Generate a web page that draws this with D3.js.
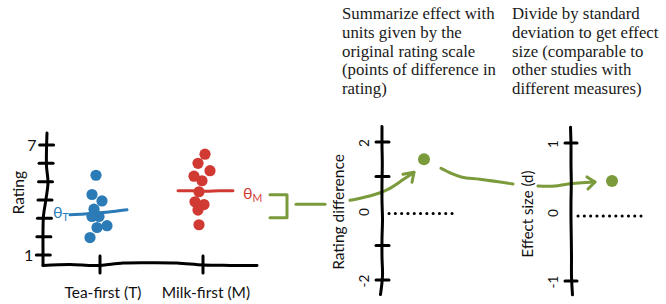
<!DOCTYPE html>
<html>
<head>
<meta charset="utf-8">
<script src="https://cdn.jsdelivr.net/npm/d3@7"></script>
<style>
  body { margin: 0; background: #fff; }
  svg { display: block; }
  text { font-family: Lato, "Noto Sans", sans-serif; fill: #111; }
  .note { font-family: "Liberation Serif", serif; font-size: 16.8px; fill: #1a1a1a; }
</style>
</head>
<body>
<div id="chart"></div>
<script>
const w = 666;
const h = 304;

// values
const groups = ['Tea-first (T)', 'Milk-first (M)'];
const teaRatings = [5.35, 4.3, 3.95, 3.5, 3.1, 3.1, 2.5, 2.6, 1.95];
const milkRatings = [6.5, 6.0, 5.6, 5.3, 5.05, 4.45, 3.75, 3.9, 3.45, 2.65];
const thetaT = 3.3;
const thetaM = 4.5;
const ratingDiff = 1.5;
const effectSize = 0.45;
const ratingTicks = [1, 2, 3, 4, 5, 6, 7];
const ratingLabels = [1, 7];
const diffTicks = [-2, -1, 1, 2];
const diffLabels = [-2, 0, 2];
const effectTicks = [-1, 1];
const effectLabels = [-1, 0, 1];
const noteLeft = ['Summarize effect with', 'units given by the', 'original rating scale', '(points of difference in', 'rating)'];
const noteRight = ['Divide by standard', 'deviation to get effect', 'size (comparable to', 'other studies with', 'different measures)'];

const blue = '#2b7bb7';
const red = '#d03a33';
const green = '#7b9a3b';

const svg = d3.select('#chart')
    .append('svg')
    .attr('width', w)
    .attr('height', h);

// scales
const yRating = d3.scaleLinear().domain([1, 7]).range([255, 145]);
const xGroup = d3.scalePoint().domain(groups).range([100, 203]);
const yDiff = d3.scaleLinear().domain([-2, 2]).range([280, 142]);
const yEff = d3.scaleLinear().domain([-1, 1]).range([281, 143]);
const diffX = 382;
const effX = 571;

// hand drawn look: line sampled evenly, nudged sideways by wig offsets
const rough = d3.line().curve(d3.curveCatmullRom);
const wobbly = (x1, y1, x2, y2, wig) => {
    const n = wig.length - 1;
    const horiz = Math.abs(x2 - x1) > Math.abs(y2 - y1);
    return rough(wig.map((o, i) => {
        const x = x1 + (x2 - x1) * i / n;
        const y = y1 + (y2 - y1) * i / n;
        return horiz ? [x, y + o] : [x + o, y];
    }));
};

const ink = (sel, color, width) => sel
    .attr('fill', 'none')
    .attr('stroke', color)
    .attr('stroke-width', width)
    .attr('stroke-linecap', 'round')
    .attr('stroke-linejoin', 'round');

// ---------- left panel ----------
const axisTop = yRating(7.65);
const axisBot = yRating(0.45);
// axis leans a bit: x at a given y
const leftAxisX = (y) => 43 + 4 * (axisBot - y) / (axisBot - axisTop);

svg.append('path')
    .attr('d', wobbly(47, axisTop, 43, axisBot, [0, 0, 0.5, 2.5, 1, -1, -1, -0.5, 0]))
    .call(ink, '#000', 3);

svg.selectAll('.rtick')
    .data(ratingTicks)
    .enter()
    .append('line')
    .attr('class', 'rtick')
    .attr('x1', d => leftAxisX(yRating(d)) - 7)
    .attr('x2', d => leftAxisX(yRating(d)) + 7)
    .attr('y1', d => yRating(d))
    .attr('y2', d => yRating(d))
    .call(ink, '#000', 3);

svg.selectAll('.rlab')
    .data(ratingLabels)
    .enter()
    .append('text')
    .attr('x', d => leftAxisX(yRating(d)) - 10)
    .attr('y', d => yRating(d) + 6)
    .attr('text-anchor', 'end')
    .attr('font-size', 16)
    .text(d => d);

svg.append('text')
    .attr('transform', 'translate(24,' + yRating(4.4) + ') rotate(-90)')
    .attr('text-anchor', 'middle')
    .attr('font-size', 15.5)
    .text('Rating');

// x axis
svg.append('path')
    .attr('d', wobbly(43, axisBot, 257, axisBot, [0.5, -0.5, 0.5, -2, -2.3, -2, 0, 0.3, 0.3]))
    .call(ink, '#000', 3);

svg.selectAll('.gtick')
    .data(groups)
    .enter()
    .append('line')
    .attr('x1', d => xGroup(d))
    .attr('x2', d => xGroup(d))
    .attr('y1', axisBot - 9)
    .attr('y2', axisBot + 8)
    .call(ink, '#000', 3);

svg.selectAll('.glab')
    .data(groups)
    .enter()
    .append('text')
    .attr('x', d => xGroup(d) + 3)
    .attr('y', 298)
    .attr('text-anchor', 'middle')
    .attr('font-size', 15.5)
    .text(d => d);

// theta lines
svg.append('path')
    .attr('d', wobbly(70, yRating(thetaT) + 1, 127, yRating(thetaT) - 2, [1, 1, 0.5, 0, -1]))
    .call(ink, blue, 3);
svg.append('path')
    .attr('d', wobbly(178, yRating(thetaM), 233, yRating(thetaM), [0, 0, 0.5, 0, 0]))
    .call(ink, red, 3);

const thetaLabel = (x, y, sub, color) => {
    const t = svg.append('text')
        .attr('x', x)
        .attr('y', y)
        .attr('font-size', 16)
        .style('fill', color);
    t.append('tspan').text('θ');
    t.append('tspan').attr('font-size', 10.5).attr('dy', 3).text(sub);
};
thetaLabel(53, yRating(thetaT) + 5, 'T', blue);
thetaLabel(243, yRating(thetaM) + 8, 'M', red);

// dots
const teaJitter = [-2, -6, 4, -4, -6, 1, -1, 9, -8];
const milkJitter = [3, -4, 8, -8, 0, -3, 2, -7, -4, -3];

svg.selectAll('.tea')
    .data(teaRatings)
    .enter()
    .append('circle')
    .attr('cx', (d, i) => xGroup(groups[0]) - 2 + teaJitter[i])
    .attr('cy', d => yRating(d))
    .attr('r', 5.6)
    .attr('fill', blue);

svg.selectAll('.milk')
    .data(milkRatings)
    .enter()
    .append('circle')
    .attr('cx', (d, i) => xGroup(groups[1]) - 1 + milkJitter[i])
    .attr('cy', d => yRating(d))
    .attr('r', 5.6)
    .attr('fill', red);

// ---------- bracket + arrow to middle ----------
const bTop = yRating(thetaM) + 4;
const bBot = yRating(thetaT) + 5;
svg.append('path')
    .attr('d', d3.line()([[270, bTop], [287, bTop], [287, bBot], [270, bBot]]))
    .call(ink, green, 3);
const bMid = (bTop + bBot) / 2 - 2;
svg.append('path')
    .attr('d', d3.line()([[296, bMid], [325, bMid]]))
    .call(ink, green, 3);

const diffDot = [diffX + 42, yDiff(ratingDiff)];
const tip1 = [diffDot[0] - 10, diffDot[1] + 13];
svg.append('path')
    .attr('d', d3.line().curve(d3.curveBasis)([[350, bMid - 4], [370, bMid - 8], [388, bMid - 14], [402, tip1[1] + 8], tip1]))
    .call(ink, green, 3);
svg.append('path')
    .attr('d', d3.line()([[tip1[0] - 11, tip1[1] + 2], tip1, [tip1[0] - 2, tip1[1] + 10]]))
    .call(ink, green, 3);

// ---------- middle panel ----------
svg.append('path')
    .attr('d', wobbly(diffX, yDiff(2.45), diffX, yDiff(-2.42), [0, 0, 0.3, 0, 0, 0.5, 0, 0, 0.5, -1.5]))
    .call(ink, '#000', 3);

svg.selectAll('.dtick')
    .data(diffTicks)
    .enter()
    .append('line')
    .attr('x1', diffX - 6)
    .attr('x2', diffX + 7)
    .attr('y1', d => yDiff(d))
    .attr('y2', d => yDiff(d))
    .call(ink, '#000', 3);

svg.selectAll('.dlab')
    .data(diffLabels)
    .enter()
    .append('text')
    .attr('transform', d => 'translate(' + (diffX - 13) + ',' + (yDiff(d) + 1) + ') rotate(-90)')
    .attr('text-anchor', 'middle')
    .attr('font-size', 13.5)
    .text(d => d);

svg.append('text')
    .attr('transform', 'translate(344,' + (yDiff(0) + 1) + ') rotate(-90)')
    .attr('text-anchor', 'middle')
    .attr('font-size', 15.5)
    .text('Rating difference');

svg.append('line')
    .attr('x1', diffX + 7)
    .attr('x2', diffX + 73)
    .attr('y1', yDiff(0) + 2.5)
    .attr('y2', yDiff(0) + 2.5)
    .attr('stroke', '#000')
    .attr('stroke-width', 3)
    .attr('stroke-linecap', 'round')
    .attr('stroke-dasharray', '0.1,6.2');

svg.append('circle')
    .attr('cx', diffDot[0])
    .attr('cy', diffDot[1])
    .attr('r', 6)
    .attr('fill', green);

// ---------- arrow to right panel ----------
const effDot = [effX + 41, yEff(effectSize)];
const tip2 = [effDot[0] - 17, effDot[1] + 1];
svg.append('path')
    .attr('d', rough([[diffDot[0] + 17, diffDot[1] + 9], [451, diffDot[1] + 14], [462, diffDot[1] + 18], [480, diffDot[1] + 20], [513, effDot[1] + 3]]))
    .call(ink, green, 3);
svg.append('path')
    .attr('d', rough([[538, effDot[1] + 5], [555, effDot[1] + 5], [568, effDot[1] + 3], tip2]))
    .call(ink, green, 3);
svg.append('path')
    .attr('d', d3.line()([[tip2[0] - 8, tip2[1] - 5], tip2, [tip2[0] - 7, tip2[1] + 7]]))
    .call(ink, green, 3);

// ---------- right panel ----------
svg.append('path')
    .attr('d', wobbly(effX, yEff(1.23), effX, yEff(-1.2), [-0.5, 0, 0, 0.3, 0, 0, 0.3, 0.5, 0.5, 1.5]))
    .call(ink, '#000', 3);

svg.selectAll('.etick')
    .data(effectTicks)
    .enter()
    .append('line')
    .attr('x1', effX - 6)
    .attr('x2', effX + 6)
    .attr('y1', d => yEff(d))
    .attr('y2', d => yEff(d))
    .call(ink, '#000', 3);

svg.selectAll('.elab')
    .data(effectLabels)
    .enter()
    .append('text')
    .attr('transform', d => 'translate(' + (effX - 13) + ',' + (yEff(d) + 1) + ') rotate(-90)')
    .attr('text-anchor', 'middle')
    .attr('font-size', 13.5)
    .text(d => d);

svg.append('text')
    .attr('transform', 'translate(533,' + (yEff(0) + 2) + ') rotate(-90)')
    .attr('text-anchor', 'middle')
    .attr('font-size', 15)
    .text('Effect size (d)');

svg.append('line')
    .attr('x1', effX + 7)
    .attr('x2', effX + 70)
    .attr('y1', yEff(0) + 4)
    .attr('y2', yEff(0) + 4)
    .attr('stroke', '#000')
    .attr('stroke-width', 3)
    .attr('stroke-linecap', 'round')
    .attr('stroke-dasharray', '0.1,6.2');

svg.append('circle')
    .attr('cx', effDot[0])
    .attr('cy', effDot[1])
    .attr('r', 6)
    .attr('fill', green);

// ---------- notes ----------
const addNote = (lines, x) => {
    svg.append('g')
        .selectAll('text')
        .data(lines)
        .enter()
        .append('text')
        .attr('class', 'note')
        .attr('x', x)
        .attr('y', (d, i) => 19 + i * 18.8)
        .text(d => d);
};
addNote(noteLeft, 342);
addNote(noteRight, 512);
</script>
</body>
</html>
